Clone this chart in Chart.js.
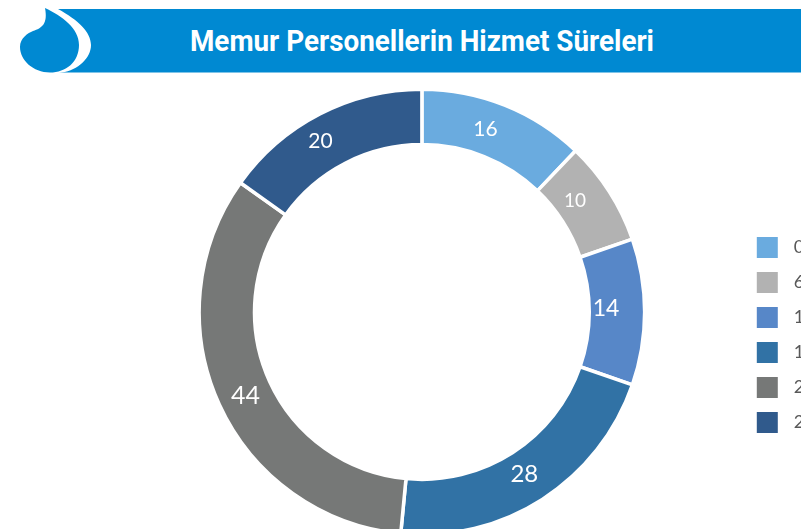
<!DOCTYPE html>
<html lang="tr">
<head>
<meta charset="utf-8">
<style>
html,body{margin:0;padding:0;background:#fff;width:801px;height:529px;overflow:hidden}
#header{position:absolute;left:0;top:0}
#wrap{position:absolute;left:0;top:0;width:875px;height:532px}
</style>
<script src="https://cdn.jsdelivr.net/npm/chart.js@4"></script>
</head>
<body>
<svg id="header" width="801" height="80" viewBox="0 0 801 80">
  <rect x="58" y="9" width="743" height="63.5" fill="#0089D2"/>
  <path d="M40 0 L58 9 C78 20 91 32 91 45 C91 58 78 70 62 72.5 L40 76 Z" fill="#fff"/>
  <path d="M45 8 C62 16 79 28 79 45 C79 62 66 72.5 50 72.5 C33 72.5 20 60 20 47 C20 38 28 33 33 31 C42 28 48 24 45 8 Z" fill="#0089D2"/>
  <text x="190" y="51" textLength="464" lengthAdjust="spacingAndGlyphs" font-family="Roboto" font-weight="700" font-size="29" fill="#fff">Memur Personellerin Hizmet Süreleri</text>
</svg>
<div id="wrap"><canvas id="c" width="875" height="532"></canvas></div>
<script>
const categories = ['0-5 Yıl', '6-10 Yıl', '11-15 Yıl', '16-20 Yıl', '21-25 Yıl', '26+ Yıl'];
const values = [16, 10, 14, 28, 44, 20];
const colors = ['#6AABDF', '#B2B2B2', '#5787C8', '#3172A5', '#767877', '#305A8C'];
const labelSizes = [21, 19, 23, 24, 25, 21];
const labelShift = [[-9, -2], [-11, -6], [-11, -3], [-3, -2], [1, 3], [-12, 3]];

const sliceLabels = {
  id: 'sliceLabels',
  afterLayout(chart) {
    chart.legend.top += 23;
    chart.legend.bottom += 23;
  },
  afterDatasetsDraw(chart) {
    const { ctx } = chart;
    chart.getDatasetMeta(0).data.forEach((arc, i) => {
      const p = arc.tooltipPosition();
      ctx.save();
      ctx.fillStyle = '#fff';
      ctx.font = labelSizes[i] + 'px Lato';
      ctx.textAlign = 'center';
      ctx.textBaseline = 'middle';
      ctx.fillText(String(values[i]), p.x + labelShift[i][0], p.y + labelShift[i][1]);
      ctx.restore();
    });
  }
};

new Chart(document.getElementById('c'), {
  type: 'doughnut',
  data: {
    labels: categories,
    datasets: [{
      data: values,
      backgroundColor: colors,
      borderColor: '#fff',
      borderWidth: 3.5,
      radius: 222.75,
      cutout: 164
    }]
  },
  options: {
    responsive: false,
    animation: false,
    layout: { padding: { left: 101, top: 92, right: 0, bottom: 0 } },
    plugins: {
      tooltip: { enabled: false },
      legend: {
        position: 'right',
        labels: {
          boxWidth: 21,
          boxHeight: 21,
          padding: 14,
          color: '#595959',
          font: { family: 'Lato', size: 18 },
          generateLabels(chart) {
            return categories.map((t, i) => ({ text: '\u00A0\u2009' + t, fillStyle: colors[i], strokeStyle: colors[i], lineWidth: 0, index: i, fontColor: '#595959' }));
          }
        }
      }
    }
  },
  plugins: [sliceLabels]
});
</script>
</body>
</html>
